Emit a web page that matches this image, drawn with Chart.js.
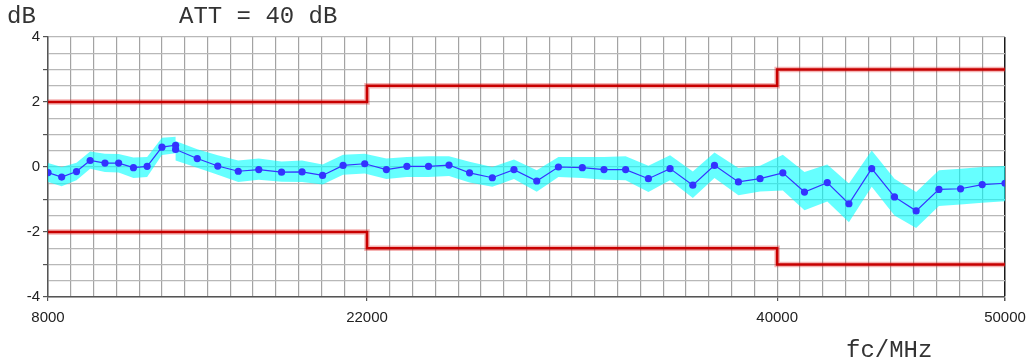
<!DOCTYPE html>
<html>
<head>
<meta charset="utf-8">
<script src="https://cdn.jsdelivr.net/npm/chart.js@4/dist/chart.umd.min.js"></script>
<style>
  html, body { margin: 0; padding: 0; background: #fff; }
  #wrap { position: relative; width: 1031px; height: 364px; }
  .lbl { position: absolute; font-family: "Liberation Mono", "DejaVu Sans Mono", monospace; font-size: 24px; line-height: 24px; color: #333; white-space: pre; }
</style>
</head>
<body>
<div id="wrap">
  <canvas id="chart" width="1031" height="364"></canvas>
  <div class="lbl" style="left:7px; top:5px;">dB</div>
  <div class="lbl" style="left:179px; top:5px;">ATT = 40 dB</div>
  <div class="lbl" style="left:846px; top:339px;">fc/MHz</div>
</div>
<script>
// measured points: frequency (MHz), level (dB), and the cyan band edges
const freqs = [8000, 8600, 9250, 9850, 10500, 11100, 11750, 12350, 13000, 13600, 13600,
  14550, 15450, 16350, 17250, 18250, 19150, 20050, 20950, 21900, 22850, 23750, 24700,
  25600, 26500, 27500, 28450, 29450, 30400, 31450, 32400, 33350, 34350, 35300, 36300,
  37250, 38300, 39250, 40250, 41200, 42200, 43150, 44150, 45150, 46100, 47100, 48050,
  49000, 50000];
const levels = [-0.17, -0.31, -0.14, 0.20, 0.12, 0.12, -0.02, 0.02, 0.61, 0.67, 0.54,
  0.26, 0.03, -0.13, -0.08, -0.16, -0.15, -0.26, 0.05, 0.10, -0.08, 0.02, 0.02,
  0.06, -0.18, -0.33, -0.08, -0.43, 0.00, -0.02, -0.08, -0.08, -0.36, -0.05, -0.56,
  0.05, -0.46, -0.36, -0.18, -0.77, -0.48, -1.13, -0.05, -0.92, -1.35, -0.69, -0.67,
  -0.54, -0.50];
const bandUpper = [0.12, 0.00, 0.13, 0.48, 0.41, 0.40, 0.29, 0.31, 0.90, 0.93, 0.80,
  0.55, 0.36, 0.20, 0.26, 0.17, 0.20, 0.08, 0.38, 0.41, 0.26, 0.31, 0.33,
  0.33, 0.16, 0.00, 0.23, -0.10, 0.31, 0.31, 0.31, 0.33, 0.04, 0.36, -0.14,
  0.45, -0.03, 0.04, 0.38, -0.15, 0.08, -0.51, 0.51, -0.36, -0.77, -0.10, -0.05,
  0.00, 0.03];
const bandLower = [-0.46, -0.59, -0.41, -0.05, -0.15, -0.17, -0.34, -0.31, 0.37, 0.42, 0.20,
  -0.02, -0.24, -0.46, -0.39, -0.45, -0.46, -0.54, -0.24, -0.20, -0.37, -0.31, -0.31,
  -0.28, -0.48, -0.61, -0.37, -0.76, -0.31, -0.34, -0.39, -0.41, -0.77, -0.41, -0.95,
  -0.34, -0.87, -0.75, -0.72, -1.33, -1.06, -1.70, -0.61, -1.49, -1.88, -1.20, -1.15,
  -1.10, -1.05];

// limit lines (stepped)
const limitFreqs = [8000, 22000, 22000, 40000, 40000, 50000];
const upperLimit = [2, 2, 2.5, 2.5, 3, 3];
const lowerLimit = [-2, -2, -2.5, -2.5, -3, -3];

const xLabels = [8000, 22000, 40000, 50000];
const yLabels = [-4, -2, 0, 2, 4];

const pts = (xs, ys) => xs.map((x, i) => ({ x: x, y: ys[i] }));

const RED = '#c80000';
const HALO = 'rgba(225,40,40,0.35)';

const config = {
  type: 'line',
  data: {
    datasets: [
      {
        label: 'level',
        data: pts(freqs, levels),
        borderColor: '#3535ff',
        borderWidth: 1.2,
        pointRadius: 3.6,
        pointBackgroundColor: '#3333ff',
        pointBorderWidth: 0,
        order: 0
      },
      { label: 'upper limit', data: pts(limitFreqs, upperLimit), borderColor: RED, borderWidth: 2.6, pointRadius: 0, order: 1 },
      { label: 'lower limit', data: pts(limitFreqs, lowerLimit), borderColor: RED, borderWidth: 2.6, pointRadius: 0, order: 1 },
      { label: 'upper halo', data: pts(limitFreqs, upperLimit), borderColor: HALO, borderWidth: 5.5, pointRadius: 0, order: 2 },
      { label: 'lower halo', data: pts(limitFreqs, lowerLimit), borderColor: HALO, borderWidth: 5.5, pointRadius: 0, order: 2 },
      {
        label: 'band upper',
        data: pts(freqs, bandUpper),
        borderWidth: 0,
        borderColor: 'rgba(0,0,0,0)',
        pointRadius: 0,
        fill: { target: '+1' },
        backgroundColor: 'rgba(0,255,255,0.6)',
        order: 3
      },
      {
        label: 'band lower',
        data: pts(freqs, bandLower),
        borderWidth: 0,
        borderColor: 'rgba(0,0,0,0)',
        pointRadius: 0,
        fill: false,
        order: 3
      }
    ]
  },
  options: {
    responsive: false,
    animation: false,
    devicePixelRatio: 1,
    layout: { padding: { top: 37, right: 26, left: 0, bottom: 0 } },
    plugins: { legend: { display: false }, tooltip: { enabled: false }, title: { display: false } },
    elements: { line: { tension: 0 } },
    scales: {
      x: {
        type: 'linear',
        min: 8000,
        max: 50000,
        afterBuildTicks: (scale) => {
          const t = [];
          for (let v = 8000; v <= 50000; v += 1000) t.push({ value: v });
          scale.ticks = t;
        },
        afterFit: (scale) => {
          scale.height = 67;
          scale.paddingLeft = 0;
          scale.paddingRight = 0;
        },
        ticks: {
          autoSkip: false,
          maxRotation: 0,
          padding: 8,
          color: '#222',
          font: { family: '"Liberation Sans", Arial, sans-serif', size: 15 },
          callback: (v) => xLabels.includes(v) ? String(v) : ''
        },
        grid: {
          color: (c) => c.tick && c.tick.value === 50000 ? '#1a1a1a' : '#a3a3a3',
          lineWidth: (c) => c.tick && c.tick.value === 50000 ? 1.5 : 1.2,
          tickLength: 4,
          tickColor: (c) => c.tick && xLabels.includes(c.tick.value) ? '#555' : 'rgba(0,0,0,0)'
        },
        border: { color: '#555', width: 1.5 }
      },
      y: {
        min: -4,
        max: 4,
        afterBuildTicks: (scale) => {
          const t = [];
          for (let v = -4; v <= 4; v += 0.5) t.push({ value: v });
          scale.ticks = t;
        },
        afterFit: (scale) => {
          scale.width = 48;
          scale.paddingTop = 0;
          scale.paddingBottom = 0;
        },
        ticks: {
          autoSkip: false,
          padding: 3,
          color: '#222',
          font: { family: '"Liberation Sans", Arial, sans-serif', size: 15 },
          callback: (v) => yLabels.includes(v) ? String(v) : ''
        },
        grid: {
          color: '#b8b8b8',
          lineWidth: 1.2,
          tickLength: 5,
          tickColor: (c) => c.tick && Number.isInteger(c.tick.value) ? '#555' : 'rgba(0,0,0,0)'
        },
        border: { color: '#555', width: 1.5 }
      }
    }
  }
};

new Chart(document.getElementById('chart').getContext('2d'), config);
</script>
</body>
</html>
